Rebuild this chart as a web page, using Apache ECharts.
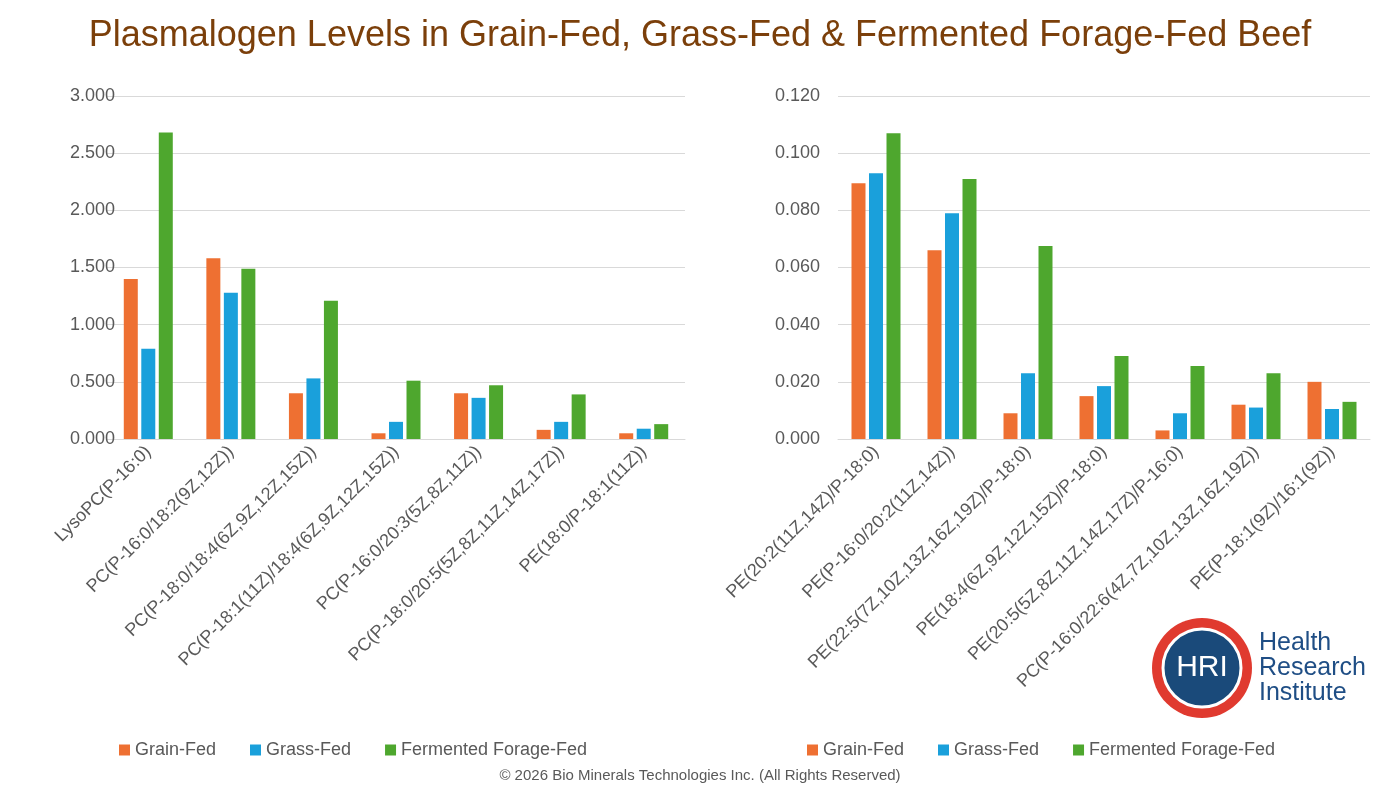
<!DOCTYPE html>
<html><head><meta charset="utf-8">
<script src="https://cdn.jsdelivr.net/npm/echarts@6/dist/echarts.min.js"></script>
<style>html,body{margin:0;padding:0;background:#fff}#c{width:1400px;height:787px}</style>
</head><body><div id="c"></div>
<script>
const leftCats=['LysoPC(P-16:0)','PC(P-16:0/18:2(9Z,12Z))','PC(P-18:0/18:4(6Z,9Z,12Z,15Z))','PC(P-18:1(11Z)/18:4(6Z,9Z,12Z,15Z))','PC(P-16:0/20:3(5Z,8Z,11Z))','PC(P-18:0/20:5(5Z,8Z,11Z,14Z,17Z))','PE(18:0/P-18:1(11Z))'];
const leftGrain=[1.40,1.58,0.40,0.05,0.40,0.08,0.05];
const leftGrass=[0.79,1.28,0.53,0.15,0.36,0.15,0.09];
const leftFerm=[2.68,1.49,1.21,0.51,0.47,0.39,0.13];
const rightCats=['PE(20:2(11Z,14Z)/P-18:0)','PE(P-16:0/20:2(11Z,14Z))','PE(22:5(7Z,10Z,13Z,16Z,19Z)/P-18:0)','PE(18:4(6Z,9Z,12Z,15Z)/P-18:0)','PE(20:5(5Z,8Z,11Z,14Z,17Z)/P-16:0)','PC(P-16:0/22:6(4Z,7Z,10Z,13Z,16Z,19Z))','PE(P-18:1(9Z)/16:1(9Z))'];
const rightGrain=[0.0895,0.066,0.009,0.015,0.003,0.012,0.020];
const rightGrass=[0.093,0.079,0.023,0.0185,0.009,0.011,0.0105];
const rightFerm=[0.107,0.091,0.0675,0.029,0.0255,0.023,0.013];
const seriesNames=['Grain-Fed','Grass-Fed','Fermented Forage-Fed'];
const colors=['#EE7032','#1AA0DB','#4EA72E'];
const font='Liberation Sans';
const chart=echarts.init(document.getElementById('c'));
function xAx(i,cats){return {type:'category',gridIndex:i,data:cats,axisTick:{show:false},
 axisLine:{lineStyle:{color:'#d9d9d9'}},axisLabel:{rotate:45,interval:0,fontSize:18,color:'#595959',fontFamily:font,margin:10}};}
function yAx(i,max,iv,m){return {type:'value',gridIndex:i,min:0,max:max,interval:iv,
 axisLabel:{fontSize:18,color:'#595959',fontFamily:font,margin:m,formatter:v=>v.toFixed(3)},
 splitLine:{lineStyle:{color:'#d9d9d9'}}};}
function bars(i,arrs){return arrs.map((a,k)=>({type:'bar',name:seriesNames[k],xAxisIndex:i,yAxisIndex:i,data:a,
 itemStyle:{color:colors[k]},barWidth:14,barGap:'25%'}));}
const leg=(left)=>({left:left,top:736,itemWidth:11,itemHeight:11,itemGap:34,icon:'rect',
 textStyle:{fontSize:18,color:'#595959',fontFamily:font},data:seriesNames});
chart.setOption({
 animation:false,
 title:{text:'Plasmalogen Levels in Grain-Fed, Grass-Fed & Fermented Forage-Fed Beef',left:'center',top:13,
  textStyle:{fontSize:36,fontWeight:'normal',color:'#7B3F0A',fontFamily:font}},
 legend:[leg(114),leg(802)],
 grid:[{left:107,right:715,top:96,height:343},{left:838,right:30,top:96,height:343}],
 xAxis:[xAx(0,leftCats),xAx(1,rightCats)],
 yAxis:[yAx(0,3,0.5,-8),yAx(1,0.12,0.02,18)],
 series:[...bars(0,[leftGrain,leftGrass,leftFerm]),...bars(1,[rightGrain,rightGrass,rightFerm])],
 graphic:[
  {type:'text',left:'center',top:768,style:{text:'© 2026 Bio Minerals Technologies Inc. (All Rights Reserved)',fontSize:15,fill:'#595959',fontFamily:font}},
  {type:'circle',shape:{cx:1202,cy:668,r:50},style:{fill:'#E03A2F'}},
  {type:'circle',shape:{cx:1202,cy:668,r:39},style:{fill:'#1A4A7A',stroke:'#fff',lineWidth:3}},
  {type:'text',x:1202,y:668,style:{text:'HRI',fontSize:30,fill:'#fff',fontFamily:font,align:'center',verticalAlign:'middle'}},
  {type:'text',x:1259,y:631,style:{text:'Health\nResearch\nInstitute',fontSize:25,lineHeight:25,fill:'#1F4E85',fontFamily:font}}
 ]
});
</script></body></html>
